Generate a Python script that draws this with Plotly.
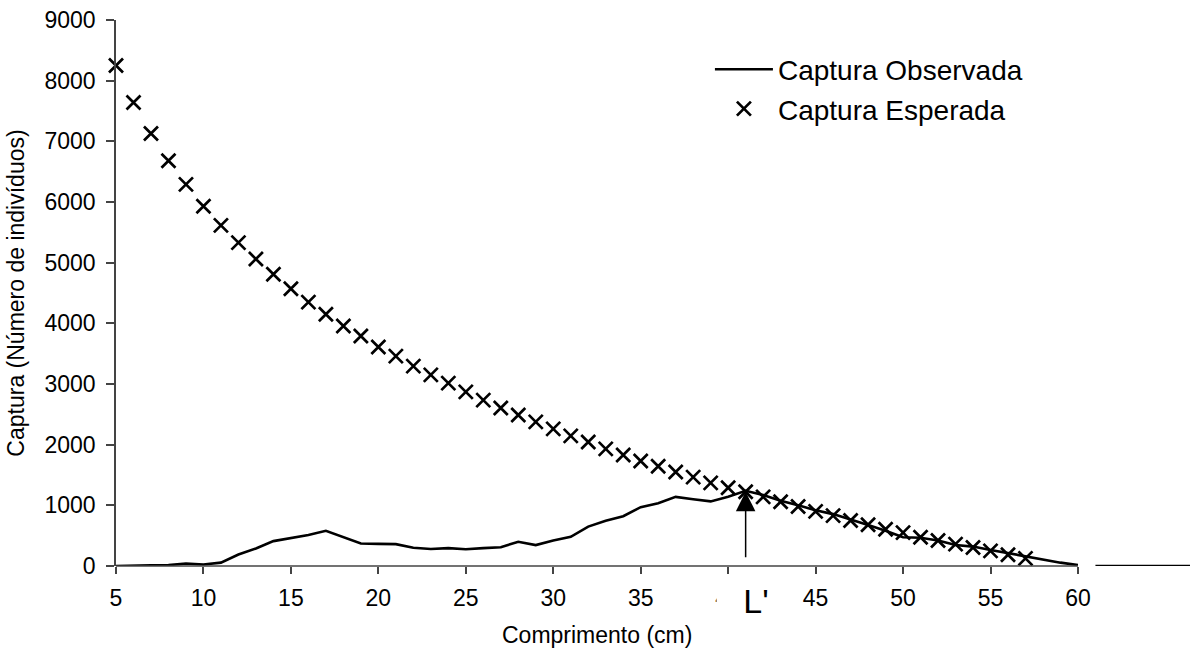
import plotly.graph_objects as go

# Comprimento (cm) classes
comprimento_esp = list(range(5, 58))
captura_esperada = [8250, 7640, 7130, 6680, 6290, 5930, 5615, 5330, 5060, 4810,
                    4570, 4350, 4150, 3955, 3790, 3610, 3460, 3295, 3150, 3015,
                    2870, 2735, 2605, 2490, 2375, 2260, 2145, 2045, 1930, 1830,
                    1730, 1645, 1550, 1465, 1370, 1290, 1225, 1140, 1060, 980,
                    900, 830, 750, 680, 605, 550, 475, 420, 360, 305,
                    250, 185, 125]

comprimento_obs = list(range(5, 61))
captura_observada = [0, 0, 10, 15, 40, 25, 55, 190, 290, 410,
                     465, 510, 580, 480, 370, 365, 360, 300, 280, 295,
                     275, 295, 310, 400, 345, 420, 480, 650, 745, 820,
                     970, 1035, 1140, 1100, 1065, 1140, 1240, 1170, 1075, 1000,
                     920, 855, 770, 675, 580, 475, 465, 420, 345, 320,
                     265, 210, 155, 100, 55, 15]

# continuation of the observed series after the break at 60 cm
comprimento_obs_extra = [61, 62, 63, 64, 65, 66, 67]
captura_observada_extra = [0, 0, 0, 0, 0, 0, 0]

x_ticks = list(range(5, 61, 5))
y_ticks = list(range(0, 9001, 1000))
L_linha = 41  # L'

FONT = "Liberation Sans, Arial, sans-serif"
AXIS_COLOR = "#444444"
FS = 23

x_obs = comprimento_obs + [None] + comprimento_obs_extra
y_obs = captura_observada + [None] + captura_observada_extra

fig = go.Figure()
fig.add_trace(go.Scatter(
    x=x_obs, y=y_obs, mode="lines", name="Captura Observada",
    line=dict(color="black", width=2.6), connectgaps=False,
))
fig.add_trace(go.Scatter(
    x=comprimento_esp, y=captura_esperada, mode="markers", name="Captura Esperada",
    marker=dict(symbol="x-thin", size=14, line=dict(color="black", width=2.7),
                color="black"),
    cliponaxis=False,
))

x_max = 5 + 1074 / 17.49

fig.update_xaxes(
    range=[5, x_max], tickvals=x_ticks, ticktext=[str(v) for v in x_ticks],
    showline=False, showgrid=False, zeroline=False,
    ticks="outside", ticklen=7, tickwidth=1.5, tickcolor=AXIS_COLOR,
    tickfont=dict(family=FONT, size=FS, color="black"),
    ticklabelstandoff=4,
)
fig.update_yaxes(
    range=[0, 9000], tickvals=y_ticks,
    showline=True, linecolor=AXIS_COLOR, linewidth=1.5,
    showgrid=False, zeroline=False,
    ticks="outside", ticklen=8, tickwidth=1.5, tickcolor=AXIS_COLOR,
    tickfont=dict(family=FONT, size=FS, color="black"),
    ticklabelstandoff=6,
    title=dict(text="Captura (Número de indivíduos)",
               font=dict(family=FONT, size=FS, color="black"), standoff=13),
)

# x axis line only over the 5–60 cm scale
fig.add_shape(type="line", xref="x", yref="paper", x0=5, x1=60, y0=0, y1=0,
              line=dict(color=AXIS_COLOR, width=1.5), layer="above")

# x axis title centred on the 5–60 cm scale
fig.add_annotation(text="Comprimento (cm)", xref="x", yref="paper",
                   x=(5 + 60) / 2, y=0, yshift=-69, yanchor="middle",
                   showarrow=False,
                   font=dict(family=FONT, size=FS, color="black"))

# arrow pointing at L'
esp_L = captura_esperada[comprimento_esp.index(L_linha)]
fig.add_annotation(x=L_linha, y=esp_L, xref="x", yref="y", text="",
                   showarrow=True, arrowhead=2, arrowsize=2.6, arrowwidth=1.5,
                   arrowcolor="black", ax=0, ay=67, standoff=0)

# L' label
fig.add_annotation(text="L'", xref="x", yref="paper", x=L_linha, y=0,
                   xshift=10, yshift=-35, yanchor="middle", xanchor="center",
                   showarrow=False, width=76, height=34, bgcolor="white",
                   font=dict(family=FONT, size=34, color="black"))

fig.update_layout(
    width=1190, height=652,
    margin=dict(l=116, r=0, t=20, b=86),
    paper_bgcolor="white", plot_bgcolor="white",
    legend=dict(x=0.553, y=0.955, xanchor="left", yanchor="top",
                font=dict(family=FONT, size=28, color="black"),
                itemwidth=58, bgcolor="rgba(0,0,0,0)", tracegroupgap=0),
    showlegend=True,
)

fig.write_html("out.html")
